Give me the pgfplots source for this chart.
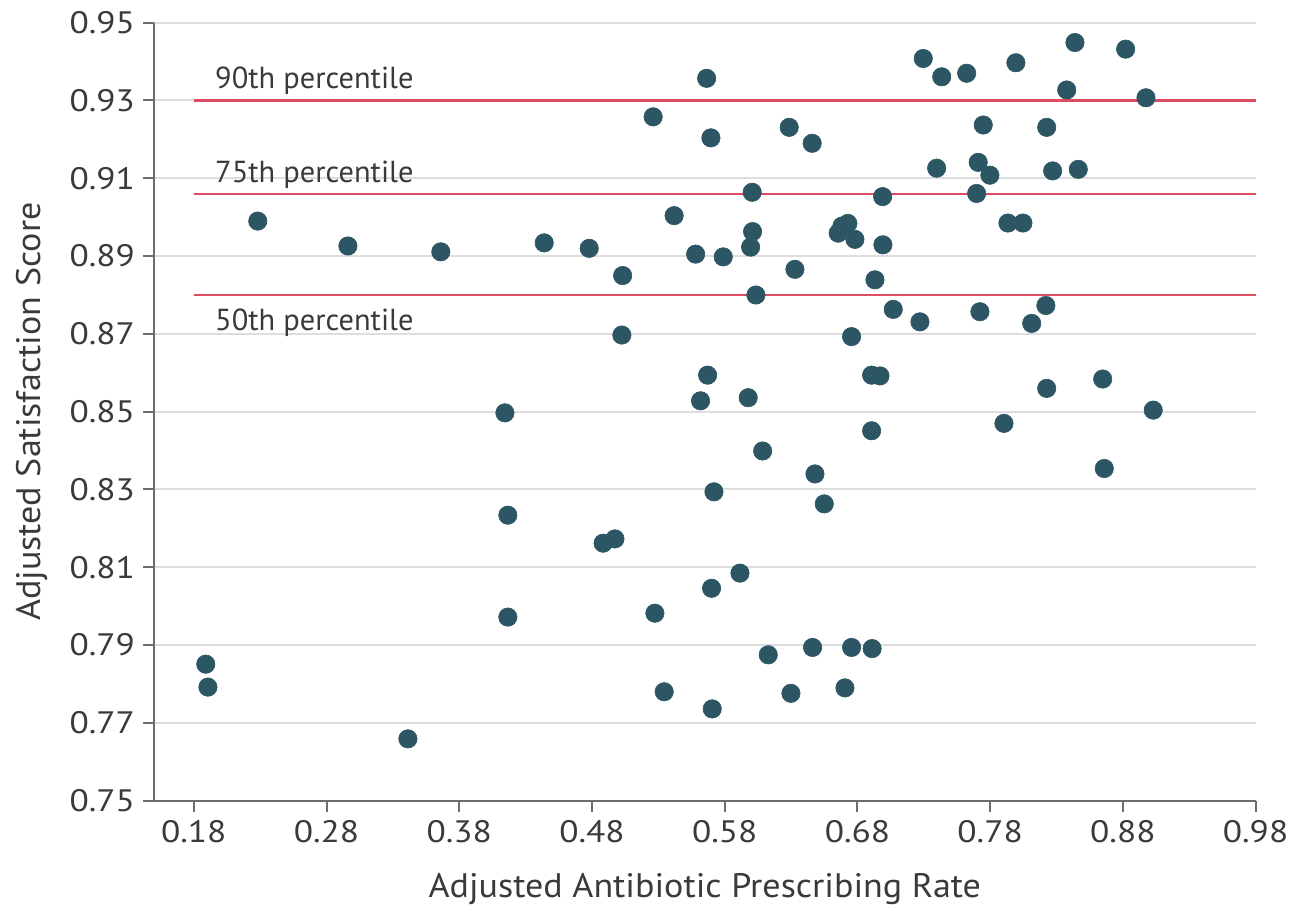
\documentclass[border=0pt]{standalone}
\usepackage{pgfplots}
\pgfplotsset{compat=1.18}
\usepackage{fontspec}
\setmainfont{PT Sans}
\newfontfamily\tickfont[FakeStretch=1.14]{PT Sans}
\newfontfamily\labfont[FakeStretch=1.06]{PT Sans}
\definecolor{dotc}{HTML}{2D5664}
\definecolor{pline}{HTML}{DE4C62}
\definecolor{gridc}{HTML}{DDDDDD}
\definecolor{axc}{HTML}{6E6E6E}
\definecolor{txtc}{HTML}{3A3A3A}
\begin{document}
\begin{tikzpicture}
\path[use as bounding box] (-77bp,-56.15bp) rectangle (570bp,400.35bp);
\begin{axis}[
  scale only axis,
  width=550.8bp, height=389bp,
  xmin=0.15, xmax=0.98, ymin=0.75, ymax=0.95,
  axis x line*=bottom, axis y line*=left,
  axis line style={axc, line width=1bp},
  xtick={0.18,0.28,0.38,0.48,0.58,0.68,0.78,0.88,0.98},
  ytick={0.75,0.77,0.79,0.81,0.83,0.85,0.87,0.89,0.91,0.93,0.95},
  xticklabels={0.18,0.28,0.38,0.48,0.58,0.68,0.78,0.88,0.98},
  yticklabels={0.75,0.77,0.79,0.81,0.83,0.85,0.87,0.89,0.91,0.93,0.95},
  tick align=outside, major tick length=5.5bp,
  tick style={axc, line width=1bp},
  ymajorgrids, grid style={gridc, line width=1bp},
  ticklabel style={font=\tickfont\fontsize{15.5bp}{18bp}\selectfont, text=txtc},
  yticklabel style={xshift=-0.5bp},
  xticklabel style={yshift=-1bp},
  label style={font=\labfont\fontsize{17bp}{20bp}\selectfont, text=txtc},
  xlabel={Adjusted Antibiotic Prescribing Rate},
  ylabel={Adjusted Satisfaction Score},
  xlabel style={at={(axis description cs:0.5,0)}, anchor=center, yshift=-44bp},
  ylabel style={at={(axis description cs:-0.1107,0.5)}, anchor=center},
  clip=false,
]
\addplot[pline, line width=1.1bp] coordinates {(0.18,0.93) (0.98,0.93)};
\addplot[pline, line width=1.1bp] coordinates {(0.18,0.906) (0.98,0.906)};
\addplot[pline, line width=1.1bp] coordinates {(0.18,0.88) (0.98,0.88)};
\node[anchor=west, text=txtc, font=\fontsize{15.2bp}{18bp}\selectfont, inner sep=0pt] at (axis cs:0.1958,0.9350) {90th percentile};
\node[anchor=west, text=txtc, font=\fontsize{15.2bp}{18bp}\selectfont, inner sep=0pt] at (axis cs:0.1958,0.9108) {75th percentile};
\node[anchor=west, text=txtc, font=\fontsize{15.2bp}{18bp}\selectfont, inner sep=0pt] at (axis cs:0.1958,0.8728) {50th percentile};
\addplot[only marks, mark=*, mark size=4.6bp, mark options={fill=dotc, draw=dotc, line width=0.3bp}] coordinates {
(0.1890,0.7851) (0.1906,0.7792) (0.2282,0.8990) (0.2961,0.8926) (0.3413,0.7659)
(0.3661,0.8911) (0.4144,0.8497) (0.4166,0.8234) (0.4166,0.7972) (0.4440,0.8934)
(0.4779,0.8920) (0.4884,0.8162) (0.4973,0.8173) (0.5031,0.8850) (0.5025,0.8697)
(0.5261,0.9258) (0.5274,0.7982) (0.5344,0.7780) (0.5419,0.9004) (0.5581,0.8905)
(0.5618,0.8528) (0.5664,0.9357) (0.5671,0.8594) (0.5696,0.9204) (0.5701,0.8046)
(0.5706,0.7736) (0.5719,0.8294) (0.5789,0.8898) (0.5915,0.8085) (0.5977,0.8536)
(0.6007,0.9064) (0.6010,0.8963) (0.5995,0.8923) (0.6035,0.8800) (0.6086,0.8399)
(0.6128,0.7875) (0.6286,0.9231) (0.6299,0.7776) (0.6329,0.8866) (0.6459,0.9190)
(0.6462,0.7894) (0.6480,0.8340) (0.6550,0.8263) (0.6655,0.8959) (0.6683,0.8977)
(0.6728,0.8984) (0.6706,0.7790) (0.6756,0.8693) (0.6756,0.7894) (0.6781,0.8943)
(0.6907,0.8451) (0.6907,0.8594) (0.6911,0.7891) (0.6932,0.8839) (0.6970,0.8592)
(0.6990,0.9053) (0.6992,0.8929) (0.7070,0.8763) (0.7271,0.8731) (0.7296,0.9408)
(0.7397,0.9126) (0.7435,0.9361) (0.7623,0.9370) (0.7698,0.9061) (0.7710,0.9141)
(0.7723,0.8757) (0.7748,0.9237) (0.7798,0.9108) (0.7904,0.8470) (0.7934,0.8985)
(0.7994,0.9397) (0.8047,0.8985) (0.8113,0.8727) (0.8220,0.8773) (0.8226,0.9231)
(0.8226,0.8560) (0.8271,0.9119) (0.8377,0.9327) (0.8439,0.9449) (0.8464,0.9123)
(0.8648,0.8584) (0.8660,0.8354) (0.8821,0.9432) (0.8974,0.9307) (0.9029,0.8504)
};
\end{axis}
\end{tikzpicture}
\end{document}
